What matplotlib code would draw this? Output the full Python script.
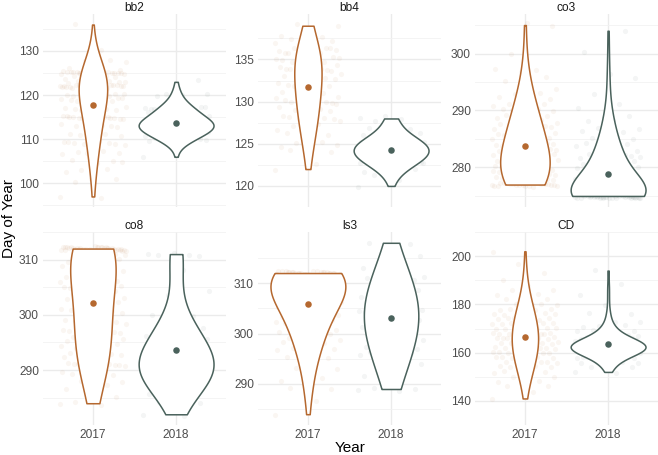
import numpy as np
import matplotlib
matplotlib.use("Agg")
import matplotlib.pyplot as plt
from matplotlib import cbook, mlab

plt.rcParams['font.family'] = ['Liberation Sans', 'DejaVu Sans']

sites = ["bb2", "bb4", "co3", "co8", "ls3", "CD"]
years = ["2017", "2018"]
year_colors = ["#B5682F", "#4A625C"]

# observations: day of year and how many records fall on it
bb2_2017_days = [97, 100, 101, 103, 105, 107, 109, 111, 113, 115, 117, 119, 120,
                 122, 123, 124, 125, 126, 128, 130, 136]
bb2_2017_n = [2, 1, 2, 3, 4, 5, 10, 5, 6, 16, 9, 10, 8, 22, 8, 6, 22, 3, 3, 1, 1]
bb2_2018_days = [106, 110, 111, 112, 113, 114, 115, 116, 117, 120, 123]
bb2_2018_n = [1, 10, 5, 8, 20, 10, 6, 3, 12, 4, 1]

bb4_2017_days = [122, 123, 124, 125, 126, 127, 128, 129, 130, 131, 132, 133, 134, 135, 136, 137, 138, 139]
bb4_2017_n = [1, 1, 2, 5, 3, 4, 8, 5, 9, 6, 6, 7, 10, 11, 11, 5, 2, 2]
bb4_2018_days = [120, 121, 122, 123, 124, 125, 126, 127, 128]
bb4_2018_n = [1, 2, 5, 14, 18, 18, 6, 3, 4]

co3_2017_days = [277, 278, 279, 280, 281, 282, 283, 284, 285, 286, 287, 288, 289, 290,
                 291, 292, 293, 294, 295, 296, 297, 300, 305]
co3_2017_n = [22, 12, 10, 9, 9, 8, 8, 9, 7, 6, 6, 5, 5, 5, 5, 3, 2, 2, 1, 1, 3, 1, 2]
co3_2018_days = [275, 276, 277, 278, 279, 280, 281, 282, 283, 284, 285, 286, 287, 288,
                 289, 290, 291, 293, 296, 300, 304]
co3_2018_n = [60, 12, 10, 8, 7, 6, 5, 8, 4, 4, 3, 3, 2, 2, 2, 1, 1, 1, 2, 1, 1]

co8_2017_days = [284, 285, 286, 287, 288, 289, 290, 291, 292, 293, 294, 295, 296, 297, 298,
                 299, 300, 301, 302, 303, 304, 305, 306, 307, 308, 309, 310, 311, 312]
co8_2017_n = [3, 1, 1, 2, 2, 3, 3, 10, 4, 4, 4, 4, 4, 8, 4, 4, 4, 4, 4, 4, 4, 8, 4, 4,
              4, 4, 4, 5, 40]
co8_2018_days = [282, 284, 286, 288, 289, 290, 291, 292, 294, 296, 298, 300, 304, 308, 311]
co8_2018_n = [2, 2, 3, 5, 6, 7, 6, 5, 5, 8, 3, 2, 2, 1, 5]

ls3_2017_days = [284, 287, 289, 291, 293, 295, 297, 298, 299, 300, 301, 302, 303, 304,
                 305, 306, 307, 308, 309, 310, 311, 312]
ls3_2017_n = [1, 1, 2, 3, 2, 3, 6, 3, 3, 3, 4, 4, 5, 5, 7, 6, 7, 7, 8, 10, 12, 35]
ls3_2018_days = [289, 292, 294, 296, 297, 299, 301, 303, 304, 305, 307, 309, 311, 313, 315, 318]
ls3_2018_n = [4, 2, 3, 6, 4, 4, 4, 5, 8, 5, 4, 3, 8, 3, 2, 2]

CD_2017_days = [141, 144, 146, 148, 150, 152, 154, 156, 158, 160, 162, 164, 166, 168,
                170, 172, 174, 176, 178, 180, 182, 184, 186, 188, 190, 193, 197, 202]
CD_2017_n = [1, 1, 2, 3, 3, 4, 5, 6, 7, 8, 8, 9, 9, 9, 8, 7, 7, 6, 5, 4, 3, 2, 2, 1, 1, 1, 1, 1]
CD_2018_days = [152, 154, 156, 158, 160, 161, 162, 163, 164, 165, 166, 167, 169, 171,
                173, 176, 180, 184, 188, 194]
CD_2018_n = [2, 3, 5, 10, 14, 10, 14, 12, 10, 10, 6, 5, 6, 3, 2, 2, 1, 1, 1, 1]

bb2_ticks = [100, 110, 120, 130]
bb4_ticks = [120, 125, 130, 135]
co3_ticks = [280, 290, 300]
co8_ticks = [290, 300, 310]
ls3_ticks = [290, 300, 310]
CD_ticks = [140, 160, 180, 200]

groups = {
    "bb2": [(bb2_2017_days, bb2_2017_n), (bb2_2018_days, bb2_2018_n)],
    "bb4": [(bb4_2017_days, bb4_2017_n), (bb4_2018_days, bb4_2018_n)],
    "co3": [(co3_2017_days, co3_2017_n), (co3_2018_days, co3_2018_n)],
    "co8": [(co8_2017_days, co8_2017_n), (co8_2018_days, co8_2018_n)],
    "ls3": [(ls3_2017_days, ls3_2017_n), (ls3_2018_days, ls3_2018_n)],
    "CD": [(CD_2017_days, CD_2017_n), (CD_2018_days, CD_2018_n)],
}
ticks = {"bb2": bb2_ticks, "bb4": bb4_ticks, "co3": co3_ticks,
         "co8": co8_ticks, "ls3": ls3_ticks, "CD": CD_ticks}

ADJUST = 2.0  # bandwidth multiplier on top of R's bw.nrd0


def nrd0(kde):
    # R's bw.nrd0, as a factor of the sample sd
    d = kde.dataset.ravel()
    sd = d.std(ddof=1)
    q75, q25 = np.percentile(d, [75, 25])
    lo = min(sd, (q75 - q25) / 1.34) if q75 > q25 else sd
    return ADJUST * 0.9 * lo * len(d) ** -0.2 / sd


def kde_method(data, coords):
    return mlab.GaussianKDE(data, bw_method=nrd0).evaluate(coords)


W, H = 658, 455
fig = plt.figure(figsize=(W / 100, H / 100), dpi=100)
lefts = [43, 258, 475]
tops = [14, 232]
pw, ph = 183, 193

for k, site in enumerate(sites):
    r, c = divmod(k, 3)
    ax = fig.add_axes([lefts[c] / W, 1 - (tops[r] + ph) / H, pw / W, ph / H])
    samples = [np.repeat(np.array(d, float), n) for d, n in groups[site]]

    # jittered raw points (behind the violins)
    for j, s in enumerate(samples):
        i = np.arange(len(s))
        jx = ((i * 0.6180339887) % 1 - 0.5) * 0.8
        jy = ((i * 0.7548776662 + 0.3) % 1 - 0.5) * 0.8
        ax.scatter(j + 1 + jx, s + jy, s=14, color=year_colors[j], alpha=0.06,
                   linewidths=0, zorder=1)

    stats = cbook.violin_stats(samples, kde_method, points=512)
    peaks = [st["vals"].max() for st in stats]
    widths = [0.9 * p / max(peaks) for p in peaks]
    parts = ax.violin(stats, positions=[1, 2], widths=widths, showextrema=False)
    for j, body in enumerate(parts["bodies"]):
        body.set_facecolor("white")
        body.set_edgecolor(year_colors[j])
        body.set_alpha(1)
        body.set_linewidth(1.1)
        body.set_zorder(2)

    for j, s in enumerate(samples):
        ax.scatter([j + 1], [s.mean()], s=22, color=year_colors[j], zorder=3, linewidths=0)

    lo = min(s.min() for s in samples) - 0.4
    hi = max(s.max() for s in samples) + 0.4
    pad = (hi - lo) * 0.05
    ax.set_ylim(lo - pad, hi + pad)
    ax.set_xlim(0.4, 2.6)

    t = ticks[site]
    ax.set_yticks(t)
    step = t[1] - t[0]
    minors = [v + step / 2 for v in [t[0] - step] + t]
    ax.set_yticks(minors, minor=True)
    ax.set_xticks([1, 2])
    ax.set_xticklabels(years if r == 1 else [])
    ax.grid(True, which="major", color="#EBEBEB", linewidth=1.0, zorder=0)
    ax.grid(True, which="minor", axis="y", color="#F2F2F2", linewidth=0.6, zorder=0)
    ax.set_axisbelow(True)
    ax.tick_params(which="both", length=0, labelsize=8.6, labelcolor="#4D4D4D", pad=3)
    for sp in ax.spines.values():
        sp.set_visible(False)
    ax.set_title(site, fontsize=8.6, color="#1A1A1A", pad=2)

fig.text(350 / W, 1 - 448 / H, "Year", ha="center", va="center", fontsize=11, color="black")
fig.text(9 / W, 1 - 219 / H, "Day of Year", ha="center", va="center", rotation=90,
         fontsize=11, color="black")

fig.savefig("out.png", dpi=100)
